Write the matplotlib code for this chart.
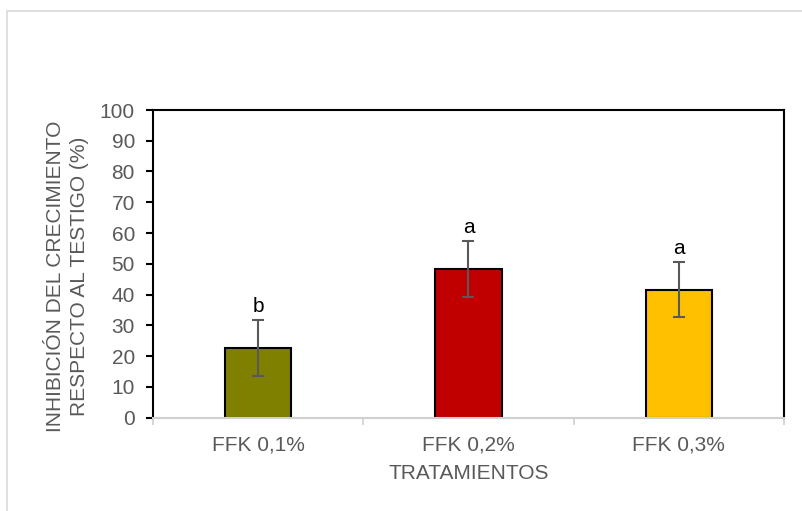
import matplotlib
matplotlib.use("Agg")
import matplotlib.pyplot as plt
from matplotlib.patches import Rectangle
import numpy as np

plt.rcParams['font.family'] = ['Liberation Sans', 'DejaVu Sans']

categories = ["FFK 0,1%", "FFK 0,2%", "FFK 0,3%"]
inhibition = [22.6, 48.2, 41.6]
std_error = [9.1, 9.1, 9.0]
letters = ["b", "a", "a"]
bar_colors = ["#808000", "#c00000", "#ffc000"]

GRAY = "#595959"
FS = 15

fig = plt.figure(figsize=(8.03, 5.11), dpi=100)
fig.patch.set_facecolor("white")

# outer chart frame
fig.patches.append(Rectangle((7.5 / 803, -0.1), 1.2, (511 - 11.5) / 511 + 0.1,
                             transform=fig.transFigure, fill=False,
                             edgecolor="#d9d9d9", linewidth=1.2, zorder=0))

ax = fig.add_axes([153 / 803, (511 - 417.5) / 511,
                   (784 - 153) / 803, (417.5 - 110) / 511])

x = np.arange(len(categories))
ax.bar(x, inhibition, width=0.315, color=bar_colors, edgecolor="black",
       linewidth=1.5, zorder=2)
ax.errorbar(x, inhibition, yerr=std_error, fmt="none", ecolor=GRAY,
            elinewidth=1.5, capsize=4, capthick=1.5, zorder=3)

for xi, v, e, lab in zip(x, inhibition, std_error, letters):
    ax.annotate(lab, (xi, v + e), xytext=(0, 6), textcoords="offset points",
                ha="center", va="baseline", fontsize=FS, color="black")

ax.set_xlim(-0.5, len(categories) - 0.5)
ax.set_ylim(0, 100)
ax.set_yticks(np.arange(0, 101, 10))
ax.set_xticks(x)
ax.set_xticklabels(categories)
ax.set_xticks(np.arange(-0.5, len(categories), 1.0), minor=True)

for side in ("left", "top", "right"):
    ax.spines[side].set_color("black")
    ax.spines[side].set_linewidth(1.5)
ax.spines["bottom"].set_color("#d0d0d0")
ax.spines["bottom"].set_linewidth(1.5)
ax.spines["bottom"].set_zorder(4)

ax.tick_params(axis="y", direction="out", length=5, width=1.5, color="black",
               labelsize=FS, labelcolor=GRAY, pad=8)
ax.tick_params(axis="x", which="major", length=0, labelsize=FS,
               labelcolor=GRAY, pad=13)
ax.tick_params(axis="x", which="minor", direction="out", length=5, width=1.2,
               color="#d0d0d0")

ax.set_xlabel("TRATAMIENTOS", fontsize=FS, color=GRAY, labelpad=7)
ax.set_ylabel("INHIBICIÓN DEL CRECIMIENTO\nRESPECTO AL TESTIGO (%)",
              fontsize=FS, color=GRAY, linespacing=1.3)
ax.yaxis.set_label_coords((89 - 153) / 631, (417.5 - 276) / 307.5)

fig.savefig("out.png", dpi=100, facecolor="white")
